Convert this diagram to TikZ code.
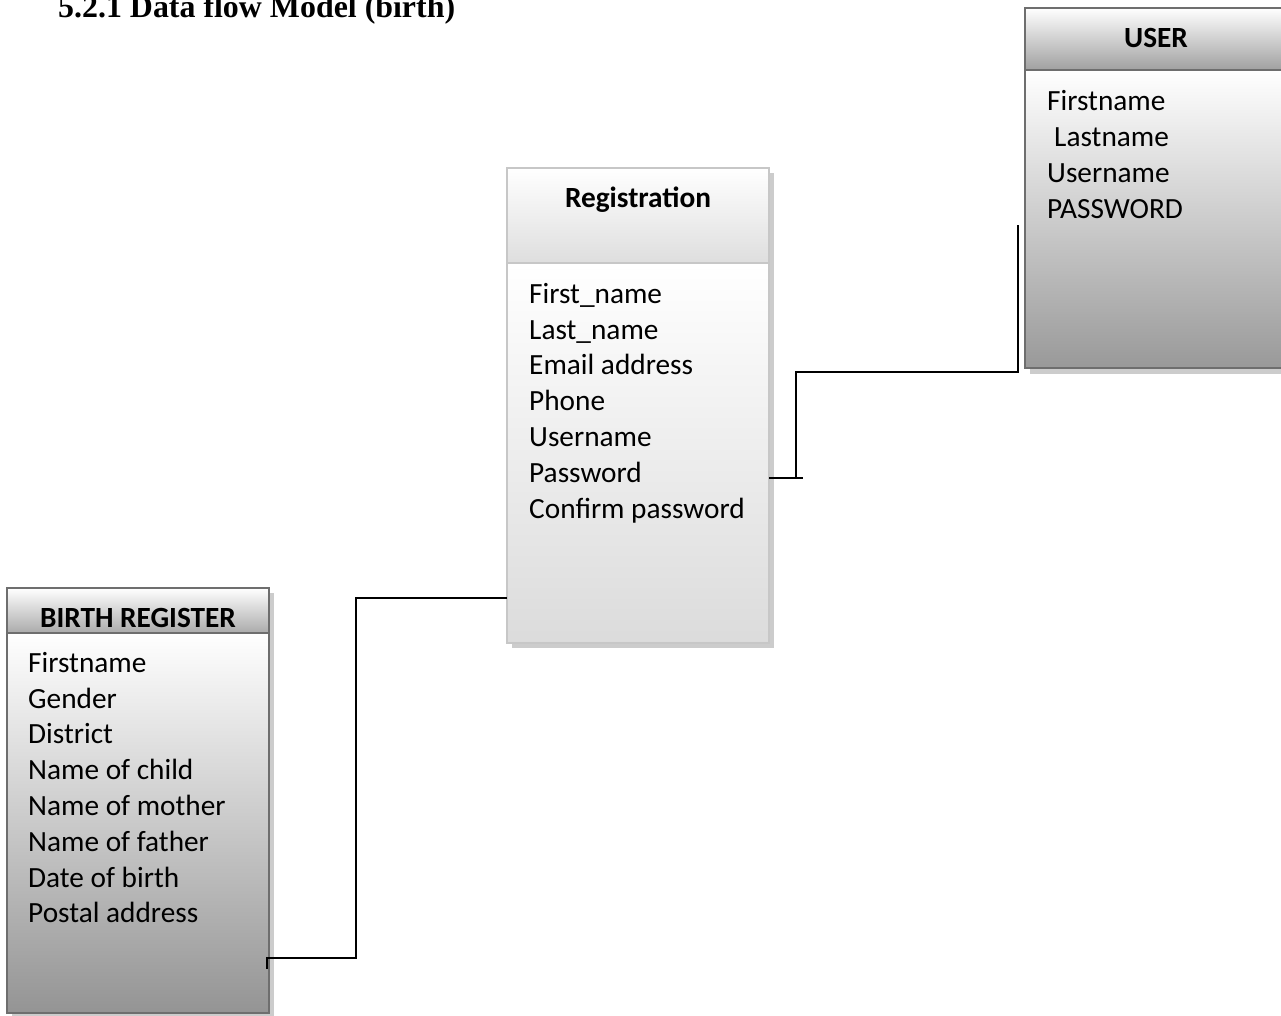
\documentclass[tikz,border=0pt]{standalone}
\usepackage{fontspec}
\setmainfont{Carlito}
\newfontfamily\headfont{Liberation Serif}
\begin{document}
\begin{tikzpicture}[x=1pt,y=-1pt,
  cell/.style={rectangle, inner sep=0pt, outer sep=0pt, anchor=north west},
  darkframe/.style={draw=black!57, line width=2.6pt},
  lightframe/.style={draw=black!22, line width=2.6pt},
  boxshadow/.style={fill=black!20},
  field/.style={anchor=base west, inner sep=0pt, font=\fontsize{29.3}{36}\selectfont},
  tabletitle/.style={anchor=base, inner sep=0pt, font=\fontsize{29.3}{36}\selectfont\bfseries},
  link/.style={draw=black, line width=2.2pt}]
\useasboundingbox (0,0) rectangle (1281,1015);
\clip (0,0) rectangle (1281,1015);

% heading
\node[anchor=base west, inner sep=0pt, font=\fontsize{31.9}{38}\headfont\bfseries] (heading) at (58,17) {5.2.1 Data flow Model (birth)};

% ---- USER table ----
\fill[boxshadow] (1030,13) rectangle (1292,374);
\node[cell, minimum width=262pt, minimum height=62pt, top color=white, bottom color=black!37] (userhead) at (1025,8) {};
\node[cell, minimum width=262pt, minimum height=298pt, top color=white, bottom color=black!40] (userbody) at (1025,70) {};
\draw[darkframe] (userhead.north west) rectangle (userbody.south east);
\draw[darkframe] (userhead.south west) -- (userhead.south east);
\node[tabletitle] (usertitle) at (1156,47) {USER};
\node[field] (u1) at (1047,110) {Firstname};
\node[field] (u2) at (1054,146) {Lastname};
\node[field] (u3) at (1047,182) {Username};
\node[field] (u4) at (1047,218) {PASSWORD};

% ---- Registration table ----
\fill[boxshadow] (512,173) rectangle (774,648);
\node[cell, minimum width=262pt, minimum height=95pt, top color=white, bottom color=black!13] (reghead) at (507,168) {};
\node[cell, minimum width=262pt, minimum height=380pt, top color=white, bottom color=black!14] (regbody) at (507,263) {};
\draw[lightframe] (reghead.north west) rectangle (regbody.south east);
\draw[lightframe] (reghead.south west) -- (reghead.south east);
\node[tabletitle] (regtitle) at (638,207) {Registration};
\node[field] (r1) at (529,303) {First\_name};
\node[field] (r2) at (529,339) {Last\_name};
\node[field] (r3) at (529,374) {Email address};
\node[field] (r4) at (529,410) {Phone};
\node[field] (r5) at (529,446) {Username};
\node[field] (r6) at (529,482) {Password};
\node[field] (r7) at (529,518) {Confirm password};

% ---- BIRTH REGISTER table ----
\fill[boxshadow] (12,593) rectangle (274,1018);
\node[cell, minimum width=262pt, minimum height=45pt, top color=white, bottom color=black!33] (birthhead) at (7,588) {};
\node[cell, minimum width=262pt, minimum height=380pt, top color=white, bottom color=black!42] (birthbody) at (7,633) {};
\draw[darkframe] (birthhead.north west) rectangle (birthbody.south east);
\draw[darkframe] (birthhead.south west) -- (birthhead.south east);
\node[tabletitle] (birthtitle) at (138,627) {BIRTH REGISTER};
\node[field] (b1) at (28,672) {Firstname};
\node[field] (b2) at (28,708) {Gender};
\node[field] (b3) at (28,743) {District};
\node[field] (b4) at (28,779) {Name of child};
\node[field] (b5) at (28,815) {Name of mother};
\node[field] (b6) at (28,851) {Name of father};
\node[field] (b7) at (28,887) {Date of birth};
\node[field] (b8) at (28,922) {Postal address};

% ---- connectors ----
\coordinate (userend) at (1018,225);
\coordinate (regtick) at (803,478);
\coordinate (regjoin) at (796,478);
\coordinate (birthend) at (267,969);
\draw[link] (regbody.east |- regtick) -- (regtick);
\draw[link] (regjoin) -- (796,372) -| (userend);
\draw[link] (regbody.west |- 0,598) -- (356,598) |- (267,958) -- (birthend);
\end{tikzpicture}
\end{document}
